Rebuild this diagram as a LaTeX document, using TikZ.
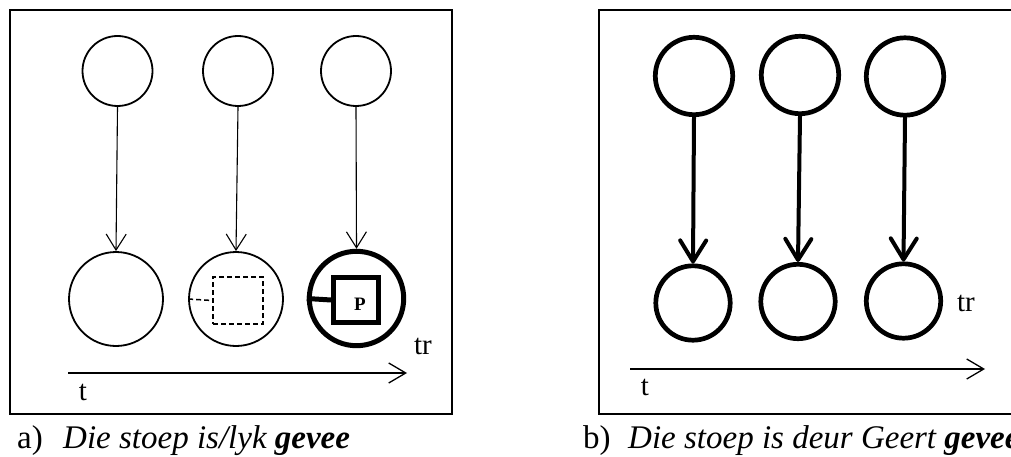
\documentclass[tikz,border=0pt]{standalone}
\usepackage{fontspec}
\setmainfont{Liberation Serif}
\usetikzlibrary{arrows.meta}
\begin{document}
\begin{tikzpicture}[x=1pt,y=-1pt,
  frame/.style={line width=1.8pt},
  thinc/.style={circle,draw,line width=1.8pt,inner sep=0pt},
  thickc/.style={circle,draw,line width=4.7pt,inner sep=0pt},
  thinarrow/.style={line width=1.1pt,-{Straight Barb[length=16pt,width=20pt,line width=1.1pt]}},
  thickarrow/.style={line width=4pt,line cap=round,-{Straight Barb[length=21pt,width=26pt,line width=4pt,round]}},
  axis/.style={line width=1.3pt,-{Straight Barb[length=17pt,width=20pt,line width=1.3pt]}},
  lbl/.style={inner sep=0pt,font=\fontsize{29}{34}\selectfont},
  captext/.style={inner sep=0pt,anchor=base west,font=\fontsize{33}{40}\selectfont}
]
\useasboundingbox (0,0) rectangle (1011,457);
\clip (0,0) rectangle (1011,457);
% ---------- panel a ----------
\draw[frame] (10,10) rectangle (452,414);
\node[thinc,minimum size=70pt] (a1) at (117.5,71) {};
\node[thinc,minimum size=70pt] (a2) at (238,71) {};
\node[thinc,minimum size=70pt] (a3) at (356,71) {};
\node[thinc,minimum size=94pt] (b1) at (116,299) {};
\node[thinc,minimum size=94pt] (b2) at (236,299) {};
\node[circle,draw,line width=5pt,inner sep=0pt,minimum size=94.4pt] (b3) at (356.5,298.5) {};
\node[draw,dash pattern=on 5pt off 3pt,line width=1.5pt,inner sep=0pt,minimum width=50pt,minimum height=47pt] (sq2) at (238,300.5) {};
\draw[line width=1.5pt,dash pattern=on 5pt off 3pt] (b2.west) -- (sq2.west);
\node[draw,line width=5pt,inner sep=0pt,minimum width=45pt,minimum height=45pt] (sq3) at (356,300) {};
\node[inner sep=0pt,font=\fontsize{19}{22}\selectfont\bfseries] (p) at (360,304) {P};
\draw[line width=5pt] (b3.west) -- (sq3.west);
\draw[thinarrow] (a1.south) -- (b1.north);
\draw[thinarrow] (a2.south) -- (b2.north);
\draw[thinarrow] (a3.south) -- (b3.north);
\coordinate (ax1) at (68,373);
\coordinate (ax2) at (407,373);
\draw[axis] (ax1) -- (ax2);
\node[lbl] (ta) at (83,392) {t};
\node[lbl] (tra) at (423,346) {tr};
\node[captext] (capa1) at (17,448) {a)};
\node[captext] (capa2) at (63,448) {\itshape Die stoep is/lyk \textbf{gevee}};
% ---------- panel b ----------
\draw[frame] (599,10) rectangle (1016,414);
\node[thickc,minimum size=77.4pt] (c1) at (694,76) {};
\node[thickc,minimum size=77.4pt] (c2) at (800,75) {};
\node[thickc,minimum size=77.4pt] (c3) at (905,76.5) {};
\node[thickc,minimum size=74.4pt] (d1) at (693,303) {};
\node[thickc,minimum size=74.4pt] (d2) at (798,301.5) {};
\node[thickc,minimum size=74.4pt] (d3) at (903.5,301) {};
\draw[thickarrow] (c1.south) -- (d1.north);
\draw[thickarrow] (c2.south) -- (d2.north);
\draw[thickarrow] (c3.south) -- (d3.north);
\coordinate (bx1) at (630,369);
\coordinate (bx2) at (985,369);
\draw[axis] (bx1) -- (bx2);
\node[lbl] (tb) at (645,387) {t};
\node[lbl] (trb) at (966,303) {tr};
\node[captext] (capb1) at (583,448) {b)};
\node[captext] (capb2) at (628,448) {\itshape Die stoep is deur Geert \textbf{gevee}};
\end{tikzpicture}
\end{document}
